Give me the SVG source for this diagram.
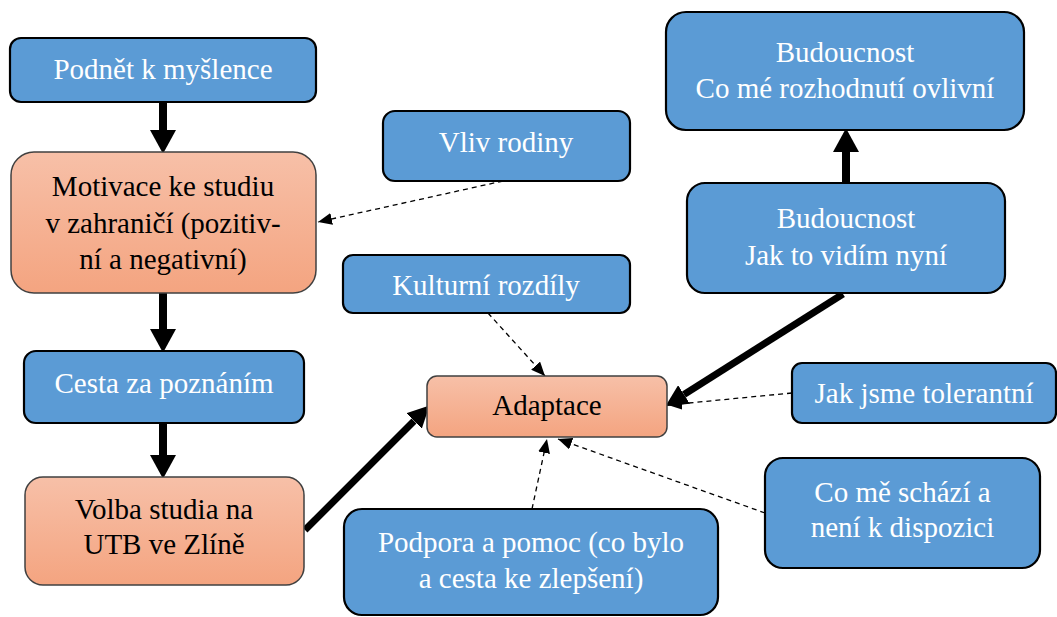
<svg xmlns="http://www.w3.org/2000/svg" width="1057" height="617" viewBox="0 0 1057 617">
<defs>
<linearGradient id="og" x1="0" y1="0" x2="0" y2="1">
<stop offset="0" stop-color="#F7C0A8"/>
<stop offset="1" stop-color="#F4A480"/>
</linearGradient>
<marker id="big" markerUnits="userSpaceOnUse" markerWidth="24" markerHeight="26" viewBox="0 0 22 24" refX="0" refY="12" orient="auto">
<path d="M0,0 L22,12 L0,24 Z" fill="#000"/>
</marker>
<marker id="mid" markerUnits="userSpaceOnUse" markerWidth="22" markerHeight="22" viewBox="0 0 20 20" refX="0" refY="10" orient="auto">
<path d="M0,0 L20,10 L0,20 Z" fill="#000"/>
</marker>
<marker id="small" markerUnits="userSpaceOnUse" markerWidth="14" markerHeight="12" viewBox="0 0 14 12" refX="14" refY="6" orient="auto">
<path d="M0,0 L14,6 L0,12 Z" fill="#000"/>
</marker>
</defs>
<style>
.b{fill:#5B9BD5;stroke:#000;stroke-width:2.2}
.o{fill:url(#og);stroke:#404040;stroke-width:1.5}
text{font-family:"Liberation Serif","Times New Roman",serif;font-size:29px;text-anchor:middle}
.tw{fill:#fff}
.tb{fill:#000}
.thick{stroke:#000;fill:none}
.dash{stroke:#000;stroke-width:1.3;stroke-dasharray:5 4;fill:none;marker-end:url(#small)}
</style>
<rect width="1057" height="617" fill="#fff"/>

<g id="connectors">
<line class="thick" x1="163" y1="102" x2="163" y2="130" stroke-width="8" marker-end="url(#big)"/>
<line class="thick" x1="163" y1="293" x2="163" y2="329" stroke-width="8" marker-end="url(#big)"/>
<line class="thick" x1="163" y1="423" x2="163" y2="455" stroke-width="8" marker-end="url(#big)"/>
<line class="thick" x1="846" y1="183" x2="846" y2="152" stroke-width="8" marker-end="url(#big)"/>
<line class="thick" x1="305" y1="530" x2="414" y2="421" stroke-width="7" marker-end="url(#mid)"/>
<line class="thick" x1="843" y1="294" x2="684" y2="394.5" stroke-width="7" marker-end="url(#mid)"/>
<line class="dash" x1="503" y1="181" x2="318" y2="222"/>
<line class="dash" x1="488" y1="313" x2="545" y2="376"/>
<line class="dash" x1="792" y1="393" x2="668" y2="405"/>
<line class="dash" x1="765" y1="513" x2="558" y2="439"/>
<line class="dash" x1="532" y1="509" x2="547" y2="439"/>
</g>

<g id="podnet">
<rect class="b" x="10" y="38" width="306" height="64" rx="11"/>
<text class="tw" x="163" y="79">Podnět k myšlence</text>
</g>
<g id="motivace">
<rect class="o" x="11" y="152" width="305" height="141" rx="23"/>
<text class="tb" x="163" y="196">Motivace ke studiu</text>
<text class="tb" x="163" y="232.5">v zahraničí (pozitiv-</text>
<text class="tb" x="163" y="269">ní a negativní)</text>
</g>
<g id="cesta">
<rect class="b" x="24" y="351" width="280" height="72" rx="12"/>
<text class="tw" x="164" y="393">Cesta za poznáním</text>
</g>
<g id="volba">
<rect class="o" x="25" y="477" width="279" height="108" rx="18"/>
<text class="tb" x="164" y="519">Volba studia na</text>
<text class="tb" x="164" y="554">UTB ve Zlíně</text>
</g>
<g id="vliv">
<rect class="b" x="383" y="111" width="247" height="70" rx="12"/>
<text class="tw" x="506" y="152">Vliv rodiny</text>
</g>
<g id="kulturni">
<rect class="b" x="343" y="255" width="287" height="58" rx="10"/>
<text class="tw" x="486" y="295">Kulturní rozdíly</text>
</g>
<g id="adaptace">
<rect class="o" x="427" y="376" width="240" height="61" rx="10"/>
<text class="tb" x="547" y="415">Adaptace</text>
</g>
<g id="podpora">
<rect class="b" x="344" y="509" width="374" height="106" rx="18"/>
<text class="tw" x="531" y="552">Podpora a pomoc (co bylo</text>
<text class="tw" x="531" y="588">a cesta ke zlepšení)</text>
</g>
<g id="budoucnost1">
<rect class="b" x="666" y="12" width="358" height="118" rx="20"/>
<text class="tw" x="845" y="62">Budoucnost</text>
<text class="tw" x="845" y="98">Co mé rozhodnutí ovlivní</text>
</g>
<g id="budoucnost2">
<rect class="b" x="687" y="183" width="318" height="110" rx="18"/>
<text class="tw" x="846" y="228">Budoucnost</text>
<text class="tw" x="846" y="265">Jak to vidím nyní</text>
</g>
<g id="tolerantni">
<rect class="b" x="792" y="363" width="264" height="60" rx="10"/>
<text class="tw" x="924" y="403">Jak jsme tolerantní</text>
</g>
<g id="schazi">
<rect class="b" x="765" y="458" width="275" height="110" rx="18"/>
<text class="tw" x="902.5" y="502">Co mě schází a</text>
<text class="tw" x="902.5" y="537">není k dispozici</text>
</g>
</svg>
